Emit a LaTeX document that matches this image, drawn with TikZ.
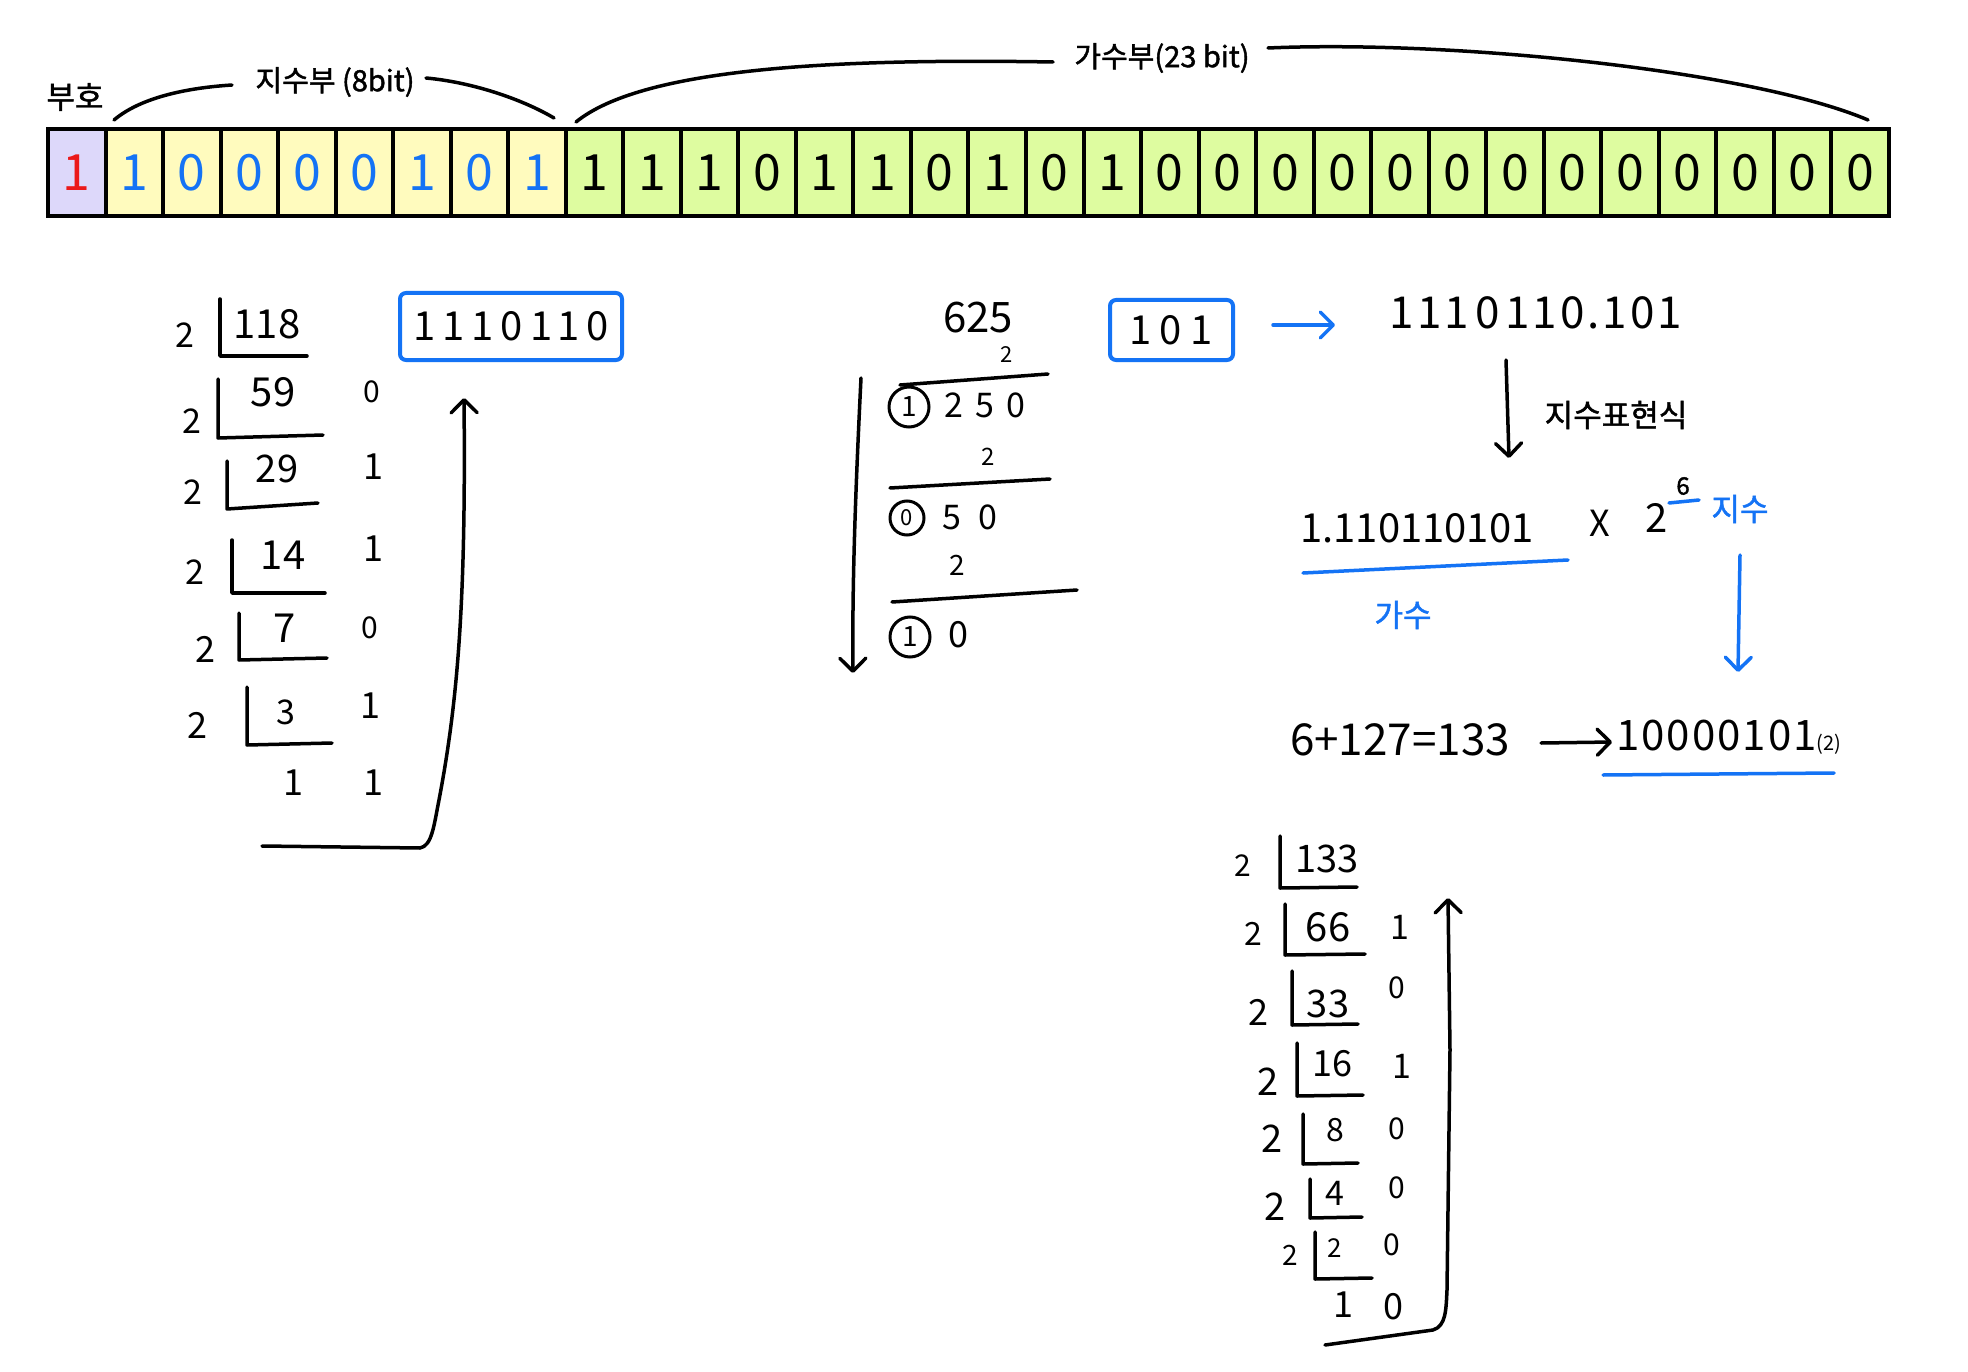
\documentclass[tikz,border=0pt]{standalone}
\usepackage{fontspec}
\setmainfont{Noto Sans CJK KR}
\newfontfamily\krb[FakeBold=1.5]{Noto Sans CJK KR}
\usetikzlibrary{arrows.meta}
\definecolor{pen}{RGB}{20,115,245}
\definecolor{redpen}{RGB}{235,25,25}
\definecolor{signc}{RGB}{221,216,250}
\definecolor{expc}{RGB}{255,251,190}
\definecolor{manc}{RGB}{222,252,160}
\tikzset{
  fs/.style={font=\fontsize{#1pt}{#1pt}\selectfont},
  txt/.style={inner sep=0pt, fs=#1},
  txt/.default=36,
  lbl/.style={inner sep=0pt, font=\krb\fontsize{#1pt}{#1pt}\selectfont},
  stroke/.style={line width=3.5pt, line cap=round, line join=round},
  arr/.style={stroke, -{Straight Barb[length=13pt,width=26pt,round]}},
  cell/.style={draw, line width=4pt, minimum width=57.53pt, minimum height=87pt, inner sep=0pt, fs=50},
  circ/.style={draw, circle, line width=3pt, minimum size=#1, inner sep=0pt, fs=28},
  pbox/.style={draw=pen, line width=4pt, rounded corners=6pt},
}
\begin{document}
\begin{tikzpicture}[x=1pt,y=-1pt]
\useasboundingbox (0,0) rectangle (1968,1372);
\fill[white] (0,0) rectangle (1968,1372);

% ---------- bit bar ----------
\node[cell, fill=signc, text=redpen] (b0) at ({48+57.53*0.5},172.5) {1};
\foreach \d [count=\i from 1] in {1,0,0,0,0,1,0,1}
  \node[cell, fill=expc, text=pen] (b\i) at ({48+57.53*(\i+0.5)},172.5) {\d};
\foreach \d [count=\i from 9] in {1,1,1,0,1,1,0,1,0,1,0,0,0,0,0,0,0,0,0,0,0,0,0}
  \node[cell, fill=manc] (b\i) at ({48+57.53*(\i+0.5)},172.5) {\d};

% labels above bar
\node[lbl=31] (sgn) at (75,97) {부호};
\node[lbl=29] (expl) at (335,82) {지수부 (8bit)};
\node[lbl=29] (manl) at (1162,58) {가수부(23 bit)};
\draw[stroke] (114,120) .. controls (140,98) and (185,88) .. (232,85);
\draw[stroke] (426,78) .. controls (470,82) and (520,98) .. (554,118);
\draw[stroke] (576,122) .. controls (640,70) and (820,58) .. (1053,62);
\draw[stroke] (1268,48) .. controls (1450,40) and (1750,70) .. (1868,120);

% ---------- left: 118 / 2 ----------
\foreach \x/\y/\b/\e/\f in {220/299/356/307/356, 218/379/438/323/435, 227/461/509/318/503, 232/540/593/325/593, 239/613/660/327/658, 247/687/745/332/743}{
  \draw[stroke] (\x,\y) -- (\x,\b) -- (\e,\f);
}
\node[txt=34] (l2a) at (185,335) {2};
\node[txt=40] (q118) at (267,324) {118};
\node[txt=34] (l2b) at (192,421) {2};
\node[txt=40] (q59) at (273,392) {59};
\node[txt=30] (r59) at (372,392) {0};
\node[txt=34] (l2c) at (193,492) {2};
\node[txt=38] (q29) at (277,469) {29};
\node[txt=36] (r29) at (373,467) {1};
\node[txt=34] (l2d) at (195,572) {2};
\node[txt=40] (q14) at (283,555) {14};
\node[txt=36] (r14) at (373,549) {1};
\node[txt=36] (l2e) at (205,649) {2};
\node[txt=40] (q7) at (285,628) {7};
\node[txt=30] (r7) at (370,628) {0};
\node[txt=36] (l2f) at (197,725) {2};
\node[txt=34] (q3) at (286,712) {3};
\node[txt=36] (r3) at (370,706) {1};
\node[txt=36] (q1) at (293,783) {1};
\node[txt=36] (r1) at (373,783) {1};
\draw[pbox] (400,293) rectangle (622,360);
\node[txt=40] (int) at (511,326) {1\kern7pt1\kern7pt1\kern7pt0\kern7pt1\kern5pt1\kern7pt0};
\coordinate (a1s) at (262,846);
\coordinate (a1e) at (464,398);
\draw[arr] (a1s) -- (420,848) .. controls (432,846) and (434,825) .. (439,800)
  .. controls (458,700) and (466,600) .. (a1e);

% ---------- middle: 0.625 * 2 ----------
\node[txt=42] (f625) at (978,318) {625};
\node[txt=22] (m2a) at (1007,355) {2};
\draw[stroke] (900,385) -- (1048,374);
\node[circ=40pt] (c1) at (909,407) {1};
\node[txt=34] (f250) at (985,405) {2\kern12pt5\kern12pt0};
\node[txt=24] (m2b) at (988,457) {2};
\draw[stroke] (890,488) -- (1050,479);
\node[circ=34pt, fs=22] (c2) at (907,518) {0};
\node[txt=34] (f50) at (970,517) {5\kern18pt0};
\node[txt=28] (m2c) at (957,565) {2};
\draw[stroke] (892,602) -- (1077,590);
\node[circ=40pt] (c3) at (910,637) {1};
\node[txt=36] (f0) at (958,635) {0};
\coordinate (a2s) at (861,378);
\coordinate (a2e) at (853,673);
\draw[arr] (a2s) .. controls (856,480) and (852,580) .. (a2e);
\draw[pbox] (1110,300) rectangle (1233,360);
\node[txt=40] (frac) at (1171,330) {1\kern8pt0\kern8pt1};

% ---------- right: normalisation ----------
\node[txt=44] (bin) at (1536,313) {1\kern3pt1\kern3pt1\kern6pt0\kern6pt1\kern3pt1\kern3pt0\kern3pt.\kern3pt1\kern3pt0\kern3pt1};
\coordinate (a3s) at (1273,325);
\coordinate (a3e) at (1335,325);
\draw[arr, draw=pen] (a3s) -- (a3e);
\draw[arr] (1506,360) coordinate (a4s) -- (1509,458) coordinate (a4e);
\node[lbl=31] (nrm) at (1616,415) {지수표현식};
\node[txt=40] (mant) at (1417,528) {1.110110101};
\draw[stroke, draw=pen] (1303,573) -- (1568,560);
\node[lbl=31, text=pen] (gasu) at (1403,615) {가수};
\node[txt=36] (times) at (1600,523) {X};
\node[txt=40] (two) at (1657,518) {2};
\node[lbl=24] (six) at (1683,486) {6};
\draw[stroke, draw=pen] (1669,503) -- (1699,500);
\node[lbl=31, text=pen] (jisu) at (1740,509) {지수};
\draw[arr, draw=pen] (1740,555) coordinate (a5s) -- (1738,672) coordinate (a5e);
\node[txt=44] (bias) at (1400,740) {6+127=133};
\draw[arr] (1541,743) coordinate (a6s) -- (1612,742) coordinate (a6e);
\node[txt=42, anchor=west] (ebits) at (1616,737) {1\kern2pt0\kern2pt0\kern2pt0\kern2pt0\kern2pt1\kern2pt0\kern2pt1{\fontsize{20pt}{20pt}\selectfont(2)}};
\draw[stroke, draw=pen] (1603,775) -- (1834,773);

% ---------- bottom: 133 / 2 ----------
\foreach \x/\y/\e/\h in {1280/836/1357/52, 1285/904/1365/51, 1292/971/1358/54, 1297/1043/1363/53, 1303/1114/1358/50, 1310/1179/1362/39, 1315/1232/1372/47}{
  \draw[stroke] (\x,\y) -- (\x,{\y+\h}) -- (\e,{\y+\h-1});
}
\node[txt=30] (k2a) at (1243,866) {2};
\node[txt=38] (k133) at (1327,859) {133};
\node[txt=32] (k2b) at (1253,934) {2};
\node[txt=40] (k66) at (1328,927) {66};
\node[txt=34] (s66) at (1400,927) {1};
\node[txt=36] (k2c) at (1258,1012) {2};
\node[txt=38] (k33) at (1328,1004) {33};
\node[txt=30] (s33) at (1397,988) {0};
\node[txt=38] (k2d) at (1268,1082) {2};
\node[txt=36] (k16) at (1332,1064) {16};
\node[txt=34] (s16) at (1402,1066) {1};
\node[txt=38] (k2e) at (1272,1139) {2};
\node[txt=32] (k8) at (1335,1130) {8};
\node[txt=30] (s8) at (1397,1129) {0};
\node[txt=38] (k2f) at (1275,1207) {2};
\node[txt=34] (k4) at (1335,1193) {4};
\node[txt=30] (s4) at (1397,1188) {0};
\node[txt=28] (k2g) at (1290,1255) {2};
\node[txt=26] (k2) at (1335,1248) {2};
\node[txt=30] (s2) at (1392,1245) {0};
\node[txt=36] (k1) at (1343,1305) {1};
\node[txt=36] (s1) at (1393,1307) {0};
\coordinate (a7s) at (1325,1345);
\coordinate (a7e) at (1448,898);
\draw[arr] (a7s) -- (1433,1330) .. controls (1446,1326) and (1446,1310) .. (1447,1290)
  -- (1450,1050) -- (a7e);
\end{tikzpicture}
\end{document}
